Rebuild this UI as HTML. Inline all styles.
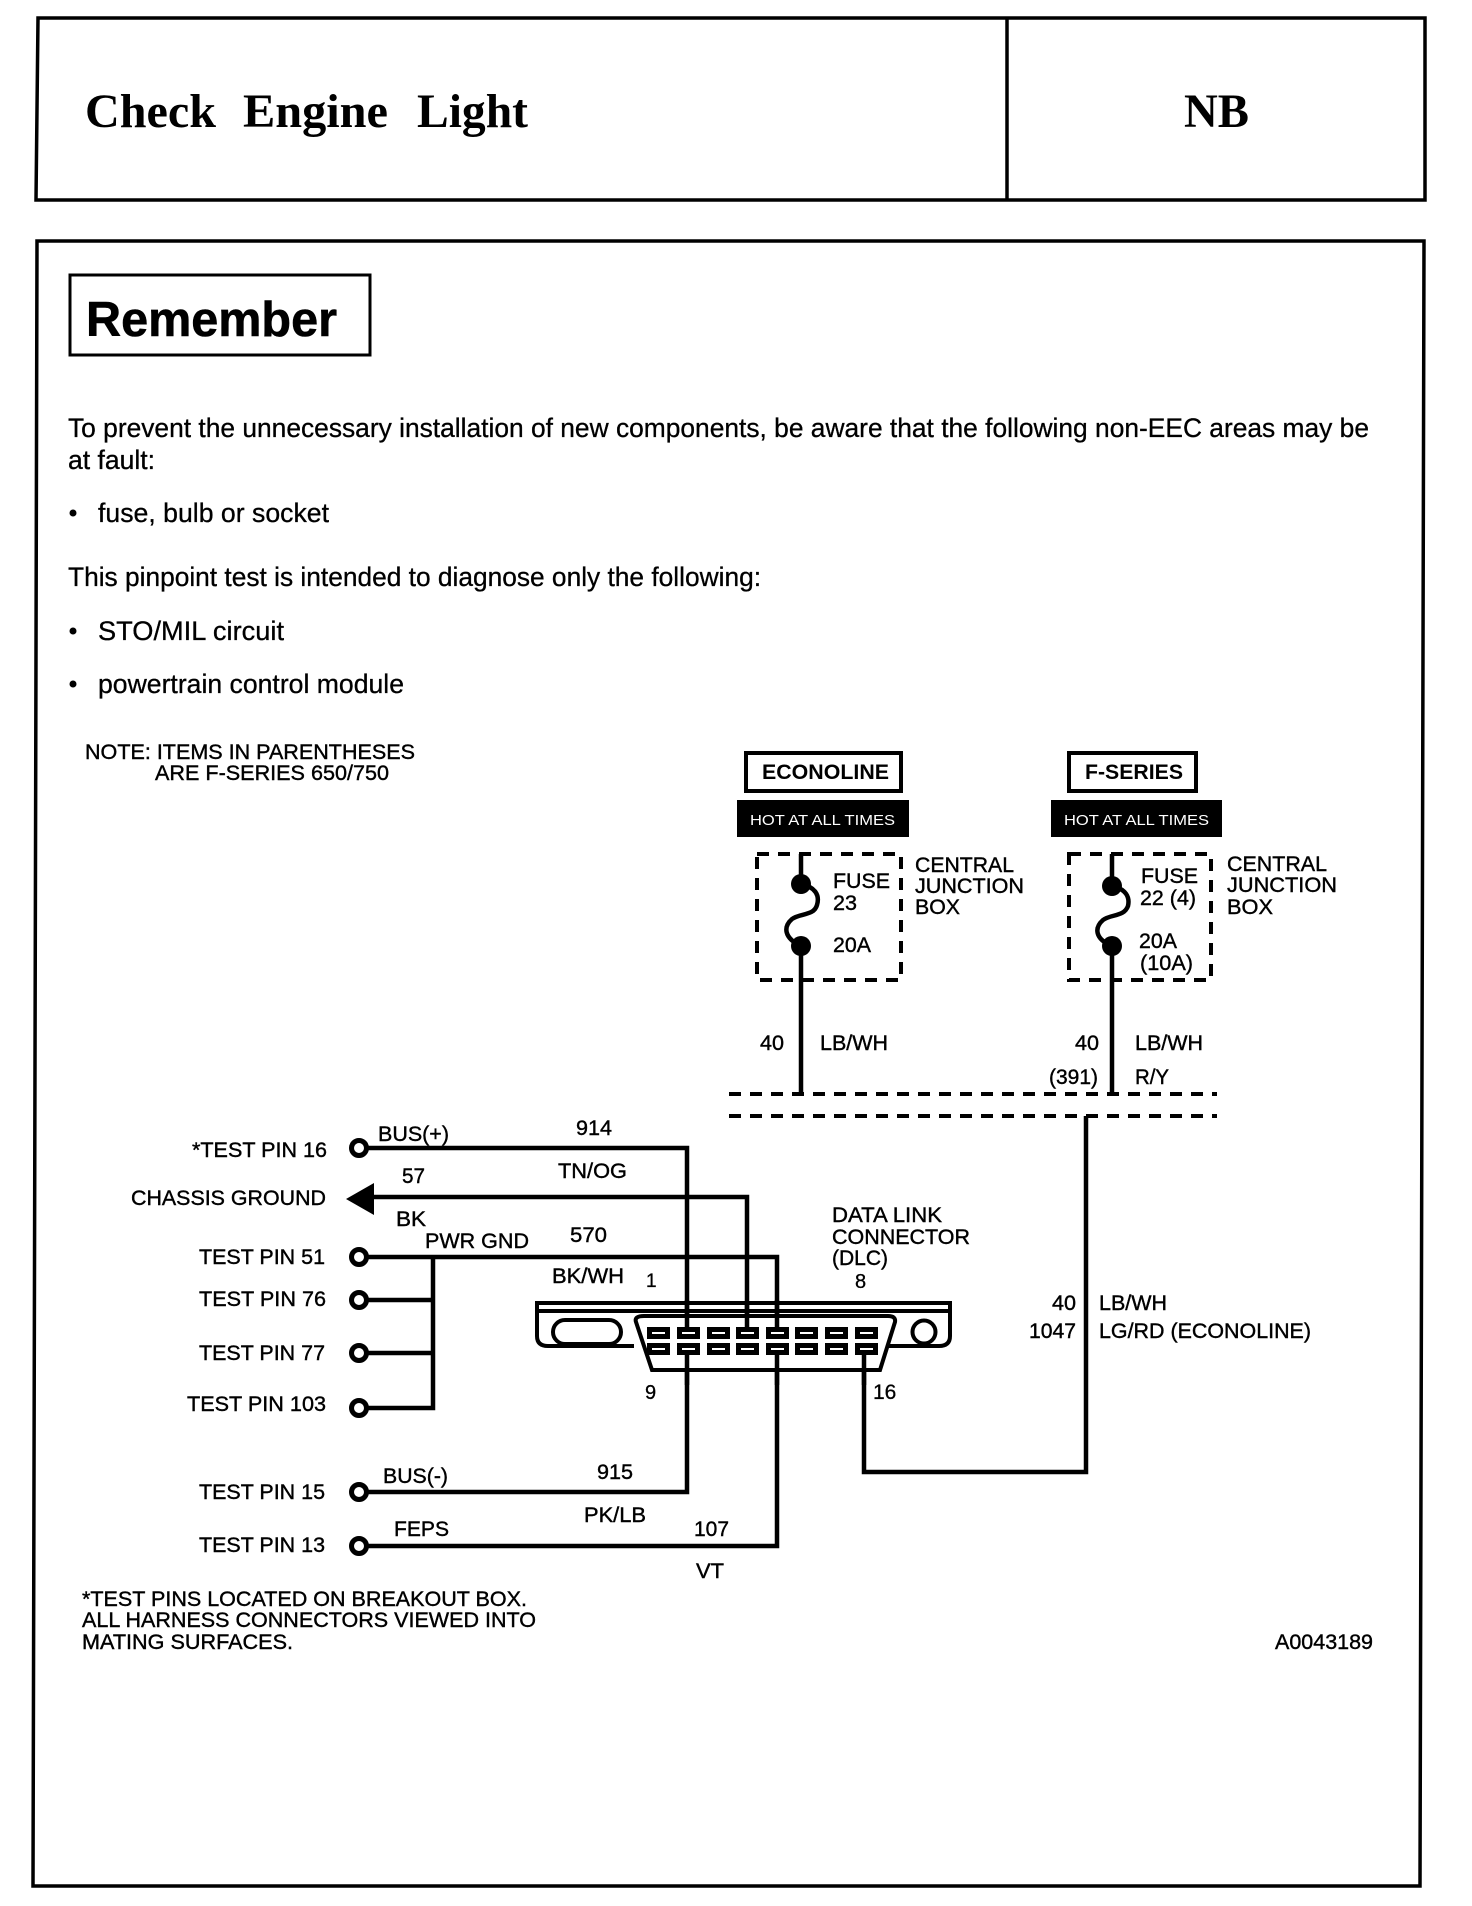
<!DOCTYPE html>
<html><head><meta charset="utf-8"><style>
html,body{margin:0;padding:0;background:#fff;width:1472px;height:1906px;overflow:hidden}
svg{display:block}
text{font-family:"Liberation Sans",sans-serif;fill:#000}
.l{font-size:21px;stroke:#000;stroke-width:.4px}
.b{font-size:27px;stroke:#000;stroke-width:.3px}
.s{font-family:"Liberation Serif",serif;font-weight:bold;font-size:48px}
</style></head><body>
<svg width="1472" height="1906" viewBox="0 0 1472 1906" xmlns="http://www.w3.org/2000/svg">
<rect width="1472" height="1906" fill="#fff"/>
<g fill="none" stroke="#000" stroke-width="3.5">
<path d="M38 18H1425V200H36Z"/><path d="M1007 18V200"/>
<path d="M37 241H1424L1420 1886H33Z"/>
<rect x="70" y="275" width="300" height="80" stroke-width="3"/>
</g>
<text class="s" x="85" y="127" textLength="131" lengthAdjust="spacingAndGlyphs">Check</text>
<text class="s" x="243" y="127" textLength="145" lengthAdjust="spacingAndGlyphs">Engine</text>
<text class="s" x="417" y="127" textLength="111" lengthAdjust="spacingAndGlyphs">Light</text>
<text class="s" x="1184" y="127" textLength="65" lengthAdjust="spacingAndGlyphs">NB</text>
<text x="86" y="336" font-size="49" font-weight="bold" textLength="251" lengthAdjust="spacingAndGlyphs" stroke="#000" stroke-width=".6">Remember</text>
<text class="b" x="68" y="437" textLength="1301" lengthAdjust="spacingAndGlyphs">To prevent the unnecessary installation of new components, be aware that the following non-EEC areas may be</text>
<text class="b" x="68" y="469" textLength="87" lengthAdjust="spacingAndGlyphs">at fault:</text>
<text class="b" x="98" y="522" textLength="231" lengthAdjust="spacingAndGlyphs">fuse, bulb or socket</text>
<text class="b" x="68" y="586" textLength="693" lengthAdjust="spacingAndGlyphs">This pinpoint test is intended to diagnose only the following:</text>
<text class="b" x="98" y="640" textLength="186" lengthAdjust="spacingAndGlyphs">STO/MIL circuit</text>
<text class="b" x="98" y="693" textLength="306" lengthAdjust="spacingAndGlyphs">powertrain control module</text>
<circle cx="73" cy="513" r="3.5"/><circle cx="73" cy="631" r="3.5"/><circle cx="73" cy="684" r="3.5"/>

<text class="l" x="85" y="759" textLength="330" lengthAdjust="spacingAndGlyphs">NOTE: ITEMS IN PARENTHESES</text>
<text class="l" x="155" y="780" textLength="234" lengthAdjust="spacingAndGlyphs">ARE F-SERIES 650/750</text>

<!-- Econoline / F-Series headers -->
<g fill="none" stroke="#000" stroke-width="4">
<rect x="746" y="753" width="155" height="38"/>
<rect x="1069" y="753" width="127" height="38"/>
</g>
<rect x="737" y="800" width="172" height="37"/>
<rect x="1051" y="800" width="171" height="37"/>
<text x="762" y="779" font-size="21" font-weight="bold" textLength="127" lengthAdjust="spacingAndGlyphs">ECONOLINE</text>
<text x="1085" y="779" font-size="21" font-weight="bold" textLength="98" lengthAdjust="spacingAndGlyphs">F-SERIES</text>
<text x="750" y="825" font-size="15" textLength="145" lengthAdjust="spacingAndGlyphs" style="fill:#fff">HOT AT ALL TIMES</text>
<text x="1064" y="825" font-size="15" textLength="145" lengthAdjust="spacingAndGlyphs" style="fill:#fff">HOT AT ALL TIMES</text>

<!-- Junction boxes -->
<g fill="none" stroke="#000" stroke-width="4" stroke-dasharray="12 9">
<rect x="757" y="854" width="144" height="126"/>
<rect x="1069" y="854" width="142" height="126"/>
<path d="M729 1094H1217"/><path d="M729 1116H1217"/>
</g>
<!-- Fuses and feeds -->
<g fill="none" stroke="#000" stroke-width="4.5">
<path d="M801 854V884M801 946V1094"/>
<path d="M801 884C815 887 820 895 817 905C814 916 800 913 792 919C783 927 784 938 801 946"/>
<path d="M1112 854V886M1112 946V1094"/>
<path d="M1112 886C1126 889 1130 897 1128 906C1124 917 1111 914 1103 920C1094 928 1095 939 1112 946"/>
</g>
<circle cx="801" cy="884" r="10"/><circle cx="801" cy="946" r="10"/>
<circle cx="1112" cy="886" r="10"/><circle cx="1112" cy="946" r="10"/>

<text class="l" x="833" y="888" textLength="57" lengthAdjust="spacingAndGlyphs">FUSE</text>
<text class="l" x="833" y="910" textLength="24" lengthAdjust="spacingAndGlyphs">23</text>
<text class="l" x="833" y="952" textLength="38" lengthAdjust="spacingAndGlyphs">20A</text>
<text class="l" x="915" y="872" textLength="99" lengthAdjust="spacingAndGlyphs">CENTRAL</text>
<text class="l" x="915" y="893" textLength="109" lengthAdjust="spacingAndGlyphs">JUNCTION</text>
<text class="l" x="915" y="914" textLength="45" lengthAdjust="spacingAndGlyphs">BOX</text>
<text class="l" x="1141" y="883" textLength="57" lengthAdjust="spacingAndGlyphs">FUSE</text>
<text class="l" x="1140" y="905" textLength="56" lengthAdjust="spacingAndGlyphs">22 (4)</text>
<text class="l" x="1139" y="948" textLength="38" lengthAdjust="spacingAndGlyphs">20A</text>
<text class="l" x="1140" y="970" textLength="53" lengthAdjust="spacingAndGlyphs">(10A)</text>
<text class="l" x="1227" y="871" textLength="100" lengthAdjust="spacingAndGlyphs">CENTRAL</text>
<text class="l" x="1227" y="892" textLength="110" lengthAdjust="spacingAndGlyphs">JUNCTION</text>
<text class="l" x="1227" y="914" textLength="46" lengthAdjust="spacingAndGlyphs">BOX</text>

<text class="l" x="760" y="1050" textLength="24" lengthAdjust="spacingAndGlyphs">40</text>
<text class="l" x="820" y="1050" textLength="68" lengthAdjust="spacingAndGlyphs">LB/WH</text>
<text class="l" x="1075" y="1050" textLength="24" lengthAdjust="spacingAndGlyphs">40</text>
<text class="l" x="1135" y="1050" textLength="68" lengthAdjust="spacingAndGlyphs">LB/WH</text>
<text class="l" x="1049" y="1084" textLength="49" lengthAdjust="spacingAndGlyphs">(391)</text>
<text class="l" x="1135" y="1084" textLength="34" lengthAdjust="spacingAndGlyphs">R/Y</text>

<!-- Wiring -->
<g fill="none" stroke="#000" stroke-width="4.5">
<path d="M366 1148H687V1327M687 1350V1492H366"/>
<path d="M372 1197H747V1327"/>
<path d="M366 1257H777V1327M777 1350V1546H366"/>
<path d="M366 1300H433M366 1353H433M366 1408H433V1257"/>
<path d="M1086 1116V1472H864V1350"/>
</g>
<g fill="#fff" stroke="#000" stroke-width="5">
<circle cx="359" cy="1148" r="7.5"/><circle cx="359" cy="1257" r="7.5"/><circle cx="359" cy="1300" r="7.5"/>
<circle cx="359" cy="1353" r="7.5"/><circle cx="359" cy="1408" r="7.5"/><circle cx="359" cy="1492" r="7.5"/><circle cx="359" cy="1546" r="7.5"/>
</g>
<path d="M346 1199L374 1183V1215Z"/>

<!-- Data link connector -->
<g fill="none" stroke="#000" stroke-width="4">
<path d="M634 1346H548Q537 1346 537 1336V1303H950V1336Q950 1346 939 1346H883"/>
<path d="M537 1311H950"/>
<rect x="553" y="1320" width="68" height="24" rx="12"/>
<circle cx="924" cy="1332" r="11.5"/>
<path d="M636 1322Q634 1316 644 1316H888Q896 1316 895 1322L880 1370H652Z" fill="#fff"/>
</g>
<path d="M687 1300V1327M747 1304V1327M777 1300V1327M687 1350V1385M777 1350V1385M864 1350V1385" stroke="#000" stroke-width="4.5" fill="none"/>
<g fill="#000">
<rect x="647" y="1327" width="23" height="12"/><rect x="677" y="1327" width="23" height="12"/><rect x="707" y="1327" width="23" height="12"/><rect x="736" y="1327" width="23" height="12"/><rect x="766" y="1327" width="23" height="12"/><rect x="795" y="1327" width="23" height="12"/><rect x="825" y="1327" width="23" height="12"/><rect x="855" y="1327" width="23" height="12"/>
<rect x="647" y="1343" width="23" height="12"/><rect x="677" y="1343" width="23" height="12"/><rect x="707" y="1343" width="23" height="12"/><rect x="736" y="1343" width="23" height="12"/><rect x="766" y="1343" width="23" height="12"/><rect x="795" y="1343" width="23" height="12"/><rect x="825" y="1343" width="23" height="12"/><rect x="855" y="1343" width="23" height="12"/>
</g>
<g fill="#fff">
<rect x="652" y="1332" width="13" height="2"/><rect x="682" y="1332" width="13" height="2"/><rect x="712" y="1332" width="13" height="2"/><rect x="741" y="1332" width="13" height="2"/><rect x="771" y="1332" width="13" height="2"/><rect x="800" y="1332" width="13" height="2"/><rect x="830" y="1332" width="13" height="2"/><rect x="860" y="1332" width="13" height="2"/>
<rect x="652" y="1348" width="13" height="2"/><rect x="682" y="1348" width="13" height="2"/><rect x="712" y="1348" width="13" height="2"/><rect x="741" y="1348" width="13" height="2"/><rect x="771" y="1348" width="13" height="2"/><rect x="800" y="1348" width="13" height="2"/><rect x="830" y="1348" width="13" height="2"/><rect x="860" y="1348" width="13" height="2"/>
</g>

<!-- Labels -->
<text class="l" x="192" y="1157" textLength="135" lengthAdjust="spacingAndGlyphs">*TEST PIN 16</text>
<text class="l" x="131" y="1205" textLength="195" lengthAdjust="spacingAndGlyphs">CHASSIS GROUND</text>
<text class="l" x="199" y="1264" textLength="126" lengthAdjust="spacingAndGlyphs">TEST PIN 51</text>
<text class="l" x="199" y="1306" textLength="127" lengthAdjust="spacingAndGlyphs">TEST PIN 76</text>
<text class="l" x="199" y="1360" textLength="126" lengthAdjust="spacingAndGlyphs">TEST PIN 77</text>
<text class="l" x="187" y="1411" textLength="139" lengthAdjust="spacingAndGlyphs">TEST PIN 103</text>
<text class="l" x="199" y="1499" textLength="126" lengthAdjust="spacingAndGlyphs">TEST PIN 15</text>
<text class="l" x="199" y="1552" textLength="126" lengthAdjust="spacingAndGlyphs">TEST PIN 13</text>

<text class="l" x="378" y="1141" textLength="71" lengthAdjust="spacingAndGlyphs">BUS(+)</text>
<text class="l" x="576" y="1135" textLength="36" lengthAdjust="spacingAndGlyphs">914</text>
<text class="l" x="402" y="1183" textLength="23" lengthAdjust="spacingAndGlyphs">57</text>
<text class="l" x="558" y="1178" textLength="69" lengthAdjust="spacingAndGlyphs">TN/OG</text>
<text class="l" x="396" y="1226" textLength="30" lengthAdjust="spacingAndGlyphs">BK</text>
<text class="l" x="425" y="1248" textLength="104" lengthAdjust="spacingAndGlyphs">PWR GND</text>
<text class="l" x="570" y="1242" textLength="37" lengthAdjust="spacingAndGlyphs">570</text>
<text class="l" x="552" y="1283" textLength="72" lengthAdjust="spacingAndGlyphs">BK/WH</text>
<text x="646" y="1287" font-size="19" stroke="#000" stroke-width=".3">1</text>
<text class="l" x="832" y="1222" textLength="110" lengthAdjust="spacingAndGlyphs">DATA LINK</text>
<text class="l" x="832" y="1244" textLength="138" lengthAdjust="spacingAndGlyphs">CONNECTOR</text>
<text class="l" x="832" y="1265" textLength="56" lengthAdjust="spacingAndGlyphs">(DLC)</text>
<text x="855" y="1288" font-size="20" stroke="#000" stroke-width=".3">8</text>
<text x="645" y="1399" font-size="20" stroke="#000" stroke-width=".3">9</text>
<text x="873" y="1399" font-size="21" stroke="#000" stroke-width=".3">16</text>
<text class="l" x="383" y="1483" textLength="65" lengthAdjust="spacingAndGlyphs">BUS(-)</text>
<text class="l" x="597" y="1479" textLength="36" lengthAdjust="spacingAndGlyphs">915</text>
<text class="l" x="584" y="1522" textLength="62" lengthAdjust="spacingAndGlyphs">PK/LB</text>
<text class="l" x="394" y="1536" textLength="55" lengthAdjust="spacingAndGlyphs">FEPS</text>
<text class="l" x="694" y="1536" textLength="35" lengthAdjust="spacingAndGlyphs">107</text>
<text class="l" x="696" y="1578" textLength="28" lengthAdjust="spacingAndGlyphs">VT</text>
<text class="l" x="1052" y="1310" textLength="24" lengthAdjust="spacingAndGlyphs">40</text>
<text class="l" x="1099" y="1310" textLength="68" lengthAdjust="spacingAndGlyphs">LB/WH</text>
<text class="l" x="1029" y="1338" textLength="47" lengthAdjust="spacingAndGlyphs">1047</text>
<text class="l" x="1099" y="1338" textLength="212" lengthAdjust="spacingAndGlyphs">LG/RD (ECONOLINE)</text>

<text class="l" x="82" y="1606" textLength="445" lengthAdjust="spacingAndGlyphs">*TEST PINS LOCATED ON BREAKOUT BOX.</text>
<text class="l" x="82" y="1627" textLength="454" lengthAdjust="spacingAndGlyphs">ALL HARNESS CONNECTORS VIEWED INTO</text>
<text class="l" x="82" y="1649" textLength="211" lengthAdjust="spacingAndGlyphs">MATING SURFACES.</text>
<text class="l" x="1275" y="1649" textLength="98" lengthAdjust="spacingAndGlyphs">A0043189</text>
</svg>
</body></html>
